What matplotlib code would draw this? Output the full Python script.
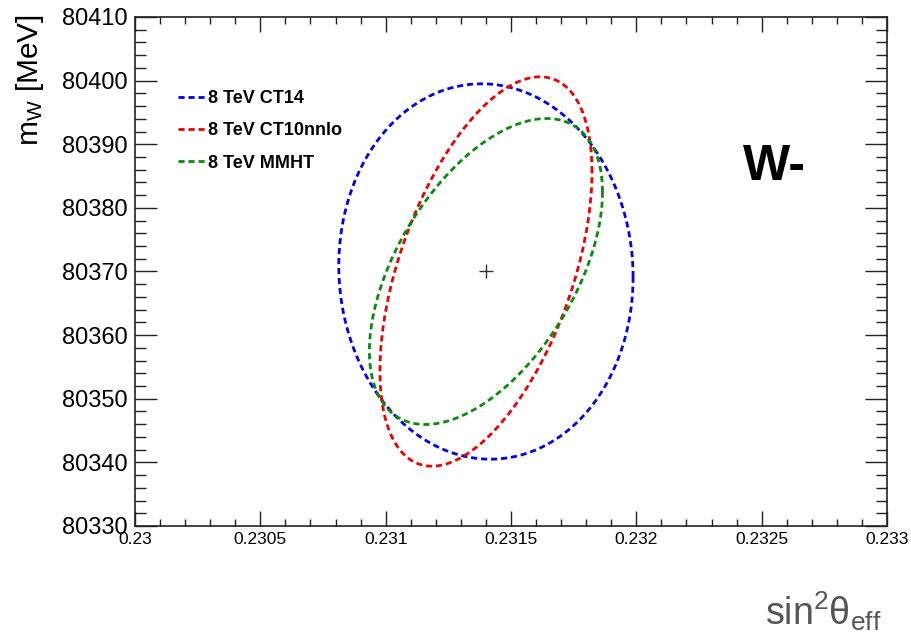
import numpy as np
import matplotlib
matplotlib.use("Agg")
import matplotlib.pyplot as plt
from matplotlib.ticker import MultipleLocator, FormatStrFormatter

plt.rcParams['font.family'] = ['Liberation Sans', 'DejaVu Sans']
plt.rcParams['mathtext.fontset'] = 'custom'
plt.rcParams['mathtext.rm'] = 'Liberation Sans'
plt.rcParams['mathtext.it'] = 'Liberation Sans'
plt.rcParams['mathtext.bf'] = 'Liberation Sans:bold'

# 1-sigma contours of (sin^2 theta_eff, m_W) for W- at 8 TeV
pdf_labels = ['8 TeV CT14', '8 TeV CT10nnlo', '8 TeV MMHT']
pdf_colors = ['#0000ee', '#ee0000', '#0a8c0a']
center_sin2 = 0.2314
center_mw = 80370.0
sigma_sin2 = [0.000587, 0.000423, 0.000465]
sigma_mw = [29.5, 30.6, 24.05]
rho = [-0.03, 0.51, 0.52]

x_ticks = [0.23, 0.2305, 0.231, 0.2315, 0.232, 0.2325, 0.233]
y_ticks = [80330, 80340, 80350, 80360, 80370, 80380, 80390, 80400, 80410]

W, H = 912, 637
fig = plt.figure(figsize=(W / 100, H / 100), dpi=100)
ax = fig.add_axes([135 / W, 1 - 526 / H, 752 / W, 509 / H])

t = np.linspace(0, 2 * np.pi, 721)
for lab, col, sx, sy, r in zip(pdf_labels, pdf_colors, sigma_sin2, sigma_mw, rho):
    xs = center_sin2 + sx * np.cos(t)
    ys = center_mw + sy * (r * np.cos(t) + np.sqrt(1 - r * r) * np.sin(t))
    ax.plot(xs, ys, color=col, lw=2.0, linestyle=(0, (2.2, 1.4)), label=lab)

ax.plot([center_sin2], [center_mw], marker='+', ms=9.5, mew=1.0,
        color='#333333', linestyle='none')

ax.set_xlim(x_ticks[0], x_ticks[-1])
ax.set_ylim(y_ticks[0], y_ticks[-1])
ax.set_xticks(x_ticks)
ax.set_yticks(y_ticks)
ax.xaxis.set_minor_locator(MultipleLocator(0.0001))
ax.yaxis.set_minor_locator(MultipleLocator(2))
ax.xaxis.set_major_formatter(FormatStrFormatter('%g'))
ax.yaxis.set_major_formatter(FormatStrFormatter('%d'))

ax.tick_params(axis='x', which='both', direction='in', top=True, bottom=True,
               labelsize=12.5, pad=4, width=1, color='#222222')
ax.tick_params(axis='x', which='major', length=10.5)
ax.tick_params(axis='x', which='minor', length=5)
ax.tick_params(axis='y', which='both', direction='in', left=True, right=True,
               labelsize=17, pad=5, width=1, color='#222222')
ax.tick_params(axis='y', which='major', length=15.5)
ax.tick_params(axis='y', which='minor', length=8)
for s in ax.spines.values():
    s.set_linewidth(1.2)
    s.set_color('#222222')

leg = ax.legend(loc='upper left', bbox_to_anchor=((178 - 135) / 752, (526 - 90) / 509),
                frameon=False, prop={'weight': 'bold', 'size': 13},
                handlelength=1.5, handletextpad=0.17, labelspacing=0.85,
                borderaxespad=0, borderpad=0)

ax.text((743 - 135) / 752, (526 - 167) / 509, 'W-', transform=ax.transAxes,
        fontsize=36, fontweight='bold', ha='left', va='center')

fig.text(30 / W, 1 - 14 / H, r'm$_{\mathrm{W}}$ [MeV]', rotation=90,
         ha='center', va='top', fontsize=21.5)
fig.text(881 / W, 1 - 625 / H, r'sin$^{2}$$\theta$$_{\mathrm{eff}}$',
         ha='right', va='baseline', fontsize=27, color='#555555')

fig.savefig('out.png', dpi=100, facecolor='white')
